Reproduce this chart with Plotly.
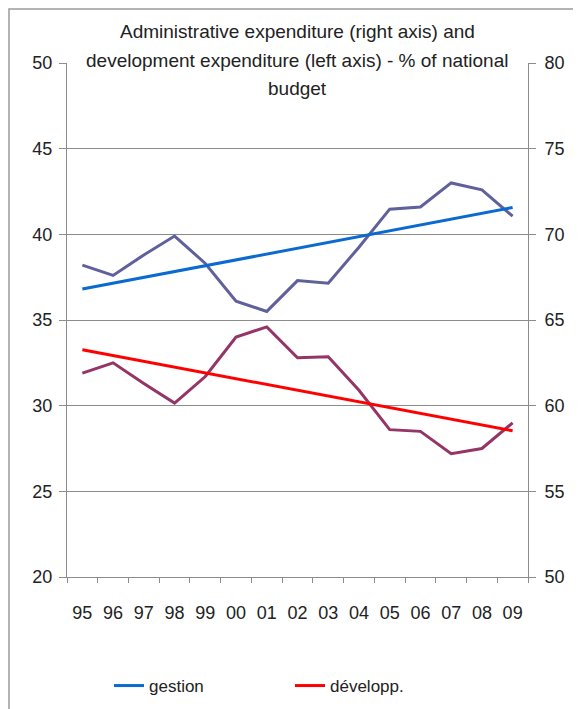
import numpy as np
import plotly.graph_objects as go

years = ["95", "96", "97", "98", "99", "00", "01", "02", "03", "04", "05", "06", "07", "08", "09"]
gestion = [68.2, 67.6, 68.8, 69.9, 68.3, 66.1, 65.5, 67.3, 67.15, 69.25, 71.47, 71.6, 73.0, 72.6, 71.06]
developp = [31.9, 32.5, 31.3, 30.15, 31.7, 34.0, 34.6, 32.8, 32.85, 30.9, 28.6, 28.5, 27.2, 27.5, 29.0]
title_lines = ["Administrative expenditure (right axis) and",
               "development expenditure (left axis) - % of national",
               "budget"]

idx = np.arange(len(years))
g_fit = np.polyval(np.polyfit(idx, gestion, 1), idx)
d_fit = np.polyval(np.polyfit(idx, developp, 1), idx)

FONT = "Liberation Sans, Arial, sans-serif"
GRID = "#8c8c8c"
TXT = "#222222"

# page has an 8px body margin; compensate
L, T, PW, PH = 59, 55, 461, 514
W, H = 573, 701

fig = go.Figure()
fig.add_trace(go.Scatter(x=years, y=gestion, yaxis="y2", mode="lines",
                         line=dict(color="#60609c", width=3), showlegend=False, name="gestion data"))
fig.add_trace(go.Scatter(x=years, y=developp, mode="lines",
                         line=dict(color="#953466", width=3), showlegend=False, name="développ. data"))
fig.add_trace(go.Scatter(x=years, y=g_fit, yaxis="y2", mode="lines",
                         line=dict(color="#0a6ad0", width=3), name="gestion"))
fig.add_trace(go.Scatter(x=years, y=d_fit, mode="lines",
                         line=dict(color="#ff0000", width=3), name="développ."))

bottom = T + PH
ann = []
for line, yfig, bg in zip(title_lines, [24, 52, 80], ["rgba(0,0,0,0)", "white", "rgba(0,0,0,0)"]):
    ann.append(dict(text=line, xref="paper", yref="paper", x=(289 - L) / PW,
                    y=(bottom - yfig) / PH, xanchor="center", yanchor="middle",
                    showarrow=False, bgcolor=bg, borderpad=3,
                    font=dict(size=19, color=TXT)))

fig.update_layout(
    width=W, height=H,
    margin=dict(l=L, r=W - L - PW, t=T, b=H - T - PH, autoexpand=False),
    paper_bgcolor="white", plot_bgcolor="white",
    font=dict(family=FONT, size=16, color=TXT),
    xaxis=dict(type="category", tickson="boundaries", ticks="outside", ticklen=5,
               tickcolor=GRID, showline=True, linecolor=GRID, linewidth=1,
               showgrid=False, ticklabelstandoff=19, tickfont=dict(size=18),
               range=[-0.5, 14.5], automargin=False),
    yaxis=dict(range=[20, 50], dtick=5, ticks="outside", ticklen=7, tickcolor=GRID,
               showline=True, linecolor=GRID, gridcolor=GRID, gridwidth=1,
               ticklabelstandoff=3, tickfont=dict(size=18), zeroline=False, automargin=False),
    yaxis2=dict(range=[50, 80], dtick=5, ticks="outside", ticklen=7, tickcolor=GRID,
                showline=True, linecolor=GRID, showgrid=False, overlaying="y", side="right",
                ticklabelstandoff=5, tickfont=dict(size=18), zeroline=False, automargin=False),
    legend=dict(orientation="h", x=(109 - 67) / PW, xanchor="left", y=-(696 - bottom) / PH,
                yanchor="bottom",
                entrywidth=136, entrywidthmode="pixels", font=dict(size=17),
                bgcolor="rgba(0,0,0,0)"),
    annotations=ann,
    shapes=[dict(type="rect", xref="paper", yref="paper",
                 x0=(1 - L) / PW, x1=1.3, y0=-0.4, y1=(bottom - 1) / PH,
                 line=dict(color="#9a9a9a", width=1.5), fillcolor="rgba(0,0,0,0)", layer="below")],
)

fig.write_html("out.html")
